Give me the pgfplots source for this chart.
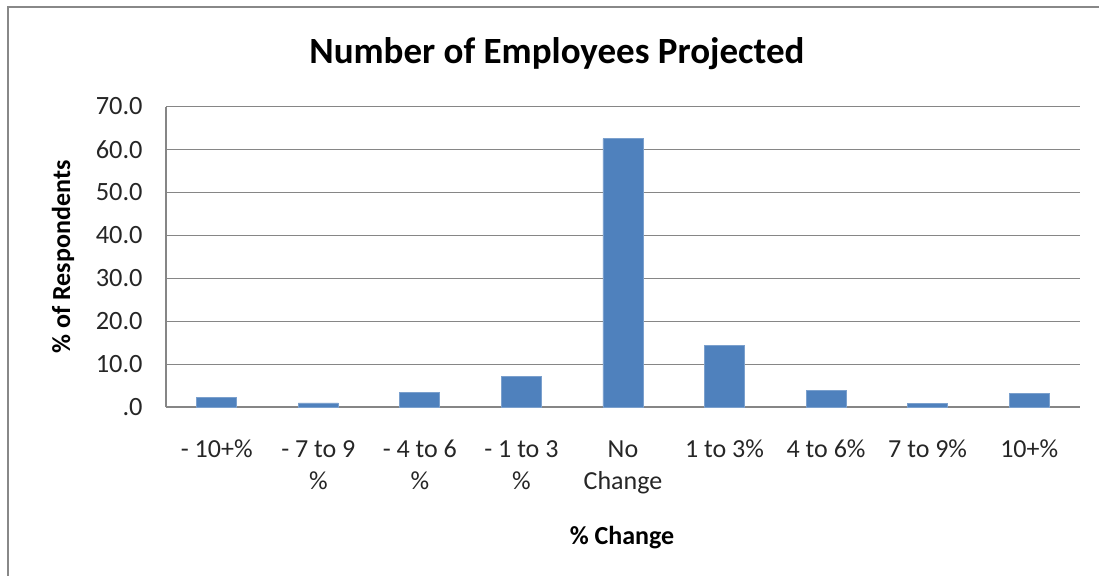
\documentclass[border=0pt]{standalone}
\usepackage{pgfplots}
\pgfplotsset{compat=1.18}
\usepackage{fontspec}
\setmainfont{Carlito}
\definecolor{barblue}{RGB}{79,129,189}
\definecolor{gridgray}{RGB}{134,134,134}
\definecolor{framegray}{RGB}{136,136,136}
\newcommand{\tl}[1]{\begin{tabular}[t]{@{}c@{}}#1\end{tabular}}
\begin{document}
\begin{tikzpicture}
\useasboundingbox (0,0) rectangle (549.5pt,288pt);
\draw[framegray, line width=1pt] (4.15pt,-2pt) -- (4.15pt,284.5pt) -- (552pt,284.5pt);
\begin{axis}[
  at={(83pt,84.35pt)}, anchor=south west,
  scale only axis, width=457pt, height=150.4pt,
  xmin=-0.5, xmax=8.5, ymin=0, ymax=70,
  ybar, bar width=20pt,
  axis x line*=bottom, axis y line*=left,
  axis line style={gridgray, line width=0.8pt, -},
  ytick={0,10,...,70},
  yticklabels={.0,10.0,20.0,30.0,40.0,50.0,60.0,70.0},
  ymajorgrids, grid style={gridgray, line width=0.8pt},
  major tick length=0pt,
  xtick={0,...,8},
  xticklabels={\tl{- 10+\%},\tl{- 7 to 9\\\%},\tl{- 4 to 6\\\%},\tl{- 1 to 3\\\%},\tl{No\\Change},\tl{1 to 3\%},\tl{4 to 6\%},\tl{7 to 9\%},\tl{10+\%}},
  yticklabel style={font=\fontsize{13.2}{15}\selectfont, inner sep=0pt, anchor=east, xshift=-11.5pt, text=black!85},
  xticklabel style={font=\fontsize{13}{16}\selectfont, inner sep=0pt, anchor=base, yshift=-25.35pt, text=black!85},
  clip=false,
]
\addplot[fill=barblue, draw=barblue!75!white, line width=0.4pt] coordinates {
(0,2.2) (1,1.0) (2,3.4) (3,7.2) (4,62.5) (5,14.4) (6,4.0) (7,0.9) (8,3.3)};
\end{axis}
\node[anchor=base, font=\fontsize{18.5}{22}\selectfont\bfseries, inner sep=0pt] at (278.5pt,256.35pt) {Number of Employees Projected};
\node[anchor=base, rotate=90, font=\fontsize{13}{16}\selectfont\bfseries, inner sep=0pt] at (35pt,159.5pt) {\% of Respondents};
\node[anchor=base, font=\fontsize{13}{16}\selectfont\bfseries, inner sep=0pt] at (311pt,15.5pt) {\% Change};
\end{tikzpicture}
\end{document}
